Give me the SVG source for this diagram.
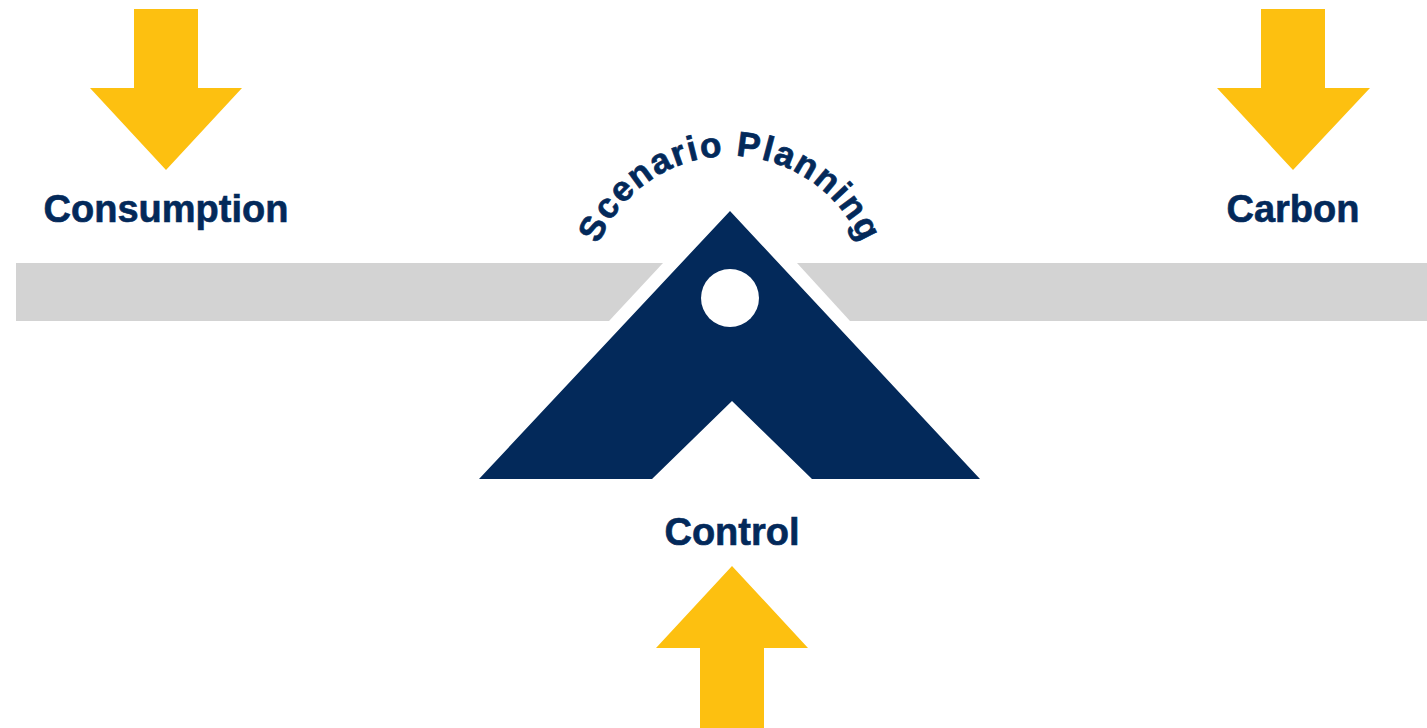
<svg xmlns="http://www.w3.org/2000/svg" width="1427" height="728" viewBox="0 0 1427 728">
<style>
.lbl{font-family:"Liberation Sans",Arial,sans-serif;font-weight:bold;font-size:38px;fill:#03295A;text-anchor:middle;stroke:#03295A;stroke-width:0.6px}
.arrow{fill:#FDC010}
.bar{fill:#D3D3D3}
.arc{font-family:"Liberation Sans",Arial,sans-serif;font-weight:bold;font-size:35px;fill:#03295A;letter-spacing:1.8px;stroke:#03295A;stroke-width:0.7px}
</style>
<defs>
<path id="arcPath" d="M 588 298 A 142 142 0 0 1 872 298"/>
</defs>
<rect width="1427" height="728" fill="#FFFFFF"/>
<g id="beam">
<polygon class="bar" points="16,263 663,263 609,321 16,321"/>
<polygon class="bar" points="797,263 1427,263 1427,321 850,321"/>
</g>
<g id="fulcrum">
<path d="M730,211 L980,479 L812,479 L732,401 L652,479 L479,479 Z" fill="#03295A"/>
<circle cx="730" cy="298" r="29" fill="#FFFFFF"/>
<text class="arc"><textPath href="#arcPath" startOffset="50%" text-anchor="middle">Scenario Planning</textPath></text>
</g>
<g id="connectors">
<polygon class="arrow" points="134,9 198,9 198,88 242,88 166,170 90,88 134,88"/>
<polygon class="arrow" points="1261,9 1325,9 1325,88 1370,88 1293,170 1217,88 1261,88"/>
<polygon class="arrow" points="700,728 764,728 764,648 808,648 732,566 656,648 700,648"/>
</g>
<g id="consumption"><text class="lbl" x="166" y="222">Consumption</text></g>
<g id="carbon"><text class="lbl" x="1293" y="222">Carbon</text></g>
<g id="control"><text class="lbl" x="732" y="545">Control</text></g>
</svg>
